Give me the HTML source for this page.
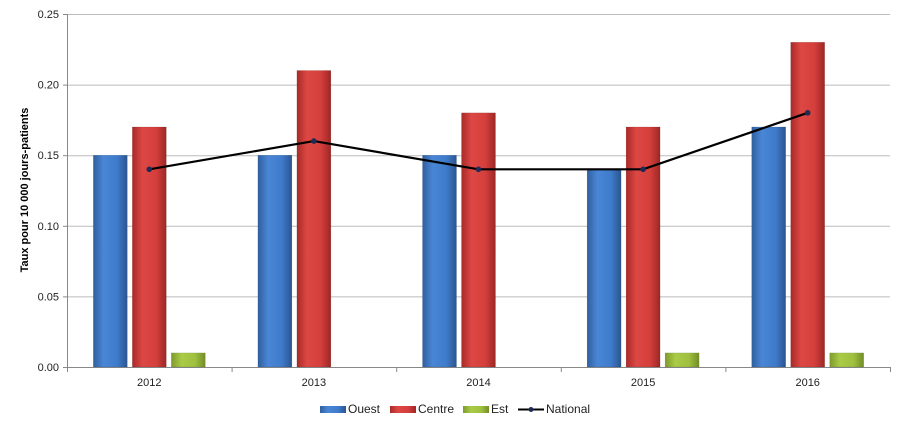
<!DOCTYPE html>
<html><head><meta charset="utf-8"><style>
body{margin:0;background:#fff;font-family:"Liberation Sans",Arial,sans-serif}
svg text{font-family:"Liberation Sans",Arial,sans-serif}
</style></head><body>
<svg id="c" width="905" height="429" xmlns="http://www.w3.org/2000/svg">
<defs>
<linearGradient id="gB" x1="0" x2="1"><stop offset="0" stop-color="#2f5f9e"/><stop offset="0.3" stop-color="#4a86d6"/><stop offset="0.7" stop-color="#3f7bcb"/><stop offset="1" stop-color="#2b558f"/></linearGradient>
<linearGradient id="gR" x1="0" x2="1"><stop offset="0" stop-color="#a82a28"/><stop offset="0.3" stop-color="#dd4744"/><stop offset="0.7" stop-color="#d43f3c"/><stop offset="1" stop-color="#9c2725"/></linearGradient>
<linearGradient id="gG" x1="0" x2="1"><stop offset="0" stop-color="#7e9a2c"/><stop offset="0.3" stop-color="#a9cb46"/><stop offset="0.7" stop-color="#9fc03f"/><stop offset="1" stop-color="#738d27"/></linearGradient>
</defs>
<g id="grid"></g><g id="bars"></g><g id="line"></g><g id="axes"></g>
<g font-size="12" fill="#222">
<rect x="320" y="406" width="26" height="7" fill="url(#gB)"/><text x="348" y="413">Ouest</text>
<rect x="390" y="406" width="26" height="7" fill="url(#gR)"/><text x="418" y="413">Centre</text>
<rect x="463" y="406" width="26" height="7" fill="url(#gG)"/><text x="491" y="413">Est</text>
<line x1="518" y1="409.5" x2="544" y2="409.5" stroke="#000" stroke-width="2"/><circle cx="531" cy="409.5" r="2.5" fill="#1f2a55"/><text x="546" y="413">National</text>
</g>
<text transform="translate(28,190) rotate(-90)" text-anchor="middle" font-size="11" font-weight="bold">Taux pour 10 000 jours-patients</text>
</svg>
<script>
const categories=["2012","2013","2014","2015","2016"];
const ouest=[0.15,0.15,0.15,0.14,0.17];
const centre=[0.17,0.21,0.18,0.17,0.23];
const est=[0.01,0,0,0.01,0.01];
const national=[0.14,0.16,0.14,0.14,0.18];
const yTicks=[0,0.05,0.10,0.15,0.20,0.25];
const NS="http://www.w3.org/2000/svg";
const X0=67,X1=890,Y0=367,Y1=14,yMax=0.25;
const band=(X1-X0)/categories.length;
const y=v=>Y0-(v/yMax)*(Y0-Y1);
const xc=i=>X0+band*(i+0.5);
function mk(tag,attrs,parent){const e=document.createElementNS(NS,tag);for(const k in attrs)e.setAttribute(k,attrs[k]);document.getElementById(parent).appendChild(e);return e;}
yTicks.forEach(t=>{
 const l=mk('line',{x1:X0,x2:X1,y1:y(t)+0.5,y2:y(t)+0.5,stroke:t===0?'#888':'#bbb','stroke-width':1},'grid');
 
 
 const tk=mk('line',{x1:X0-4,x2:X0,y1:y(t)+0.5,y2:y(t)+0.5,stroke:'#888'},'axes');
 
 
 const tx=mk('text',{x:X0-8,y:y(t)+4,'text-anchor':'end','font-size':11,fill:'#222'},'axes');
 tx.textContent=t.toFixed(2);
 
 
});
const ax=mk('line',{x1:X0+0.5,x2:X0+0.5,y1:Y1,y2:Y0,stroke:'#888'},'axes');


for(let i=0;i<=categories.length;i++){
 const t=mk('line',{x1:X0+band*i+0.5,x2:X0+band*i+0.5,y1:Y0,y2:Y0+5,stroke:'#888'},'axes');
 
 
}
const bw=34,gap=5;
const series=[[ouest,'url(#gB)','ouest'],[centre,'url(#gR)','centre'],[est,'url(#gG)','est']];
categories.forEach((c,i)=>{
 series.forEach((s,j)=>{
  const v=s[0][i];if(!v)return;
  const x=xc(i)+(j-1)*(bw+gap)-bw/2;
  const r=mk('rect',{x:x,y:y(v),width:bw,height:Y0-y(v),fill:s[1],stroke:'rgba(0,0,0,0.15)','stroke-width':0.5},'bars');
  
  
 });
 const tx=mk('text',{x:xc(i),y:Y0+19,'text-anchor':'middle','font-size':11,fill:'#222'},'axes');
 tx.textContent=c;
 
 
});
const pts=national.map((v,i)=>xc(i)+','+y(v)).join(' ');
const pl=mk('polyline',{points:pts,fill:'none',stroke:'#000','stroke-width':2.2},'line');


national.forEach((v,i)=>{
 const c=mk('circle',{cx:xc(i),cy:y(v),r:2.8,fill:'#1f2a55'},'line');
 
 
});
</script>
</body></html>
